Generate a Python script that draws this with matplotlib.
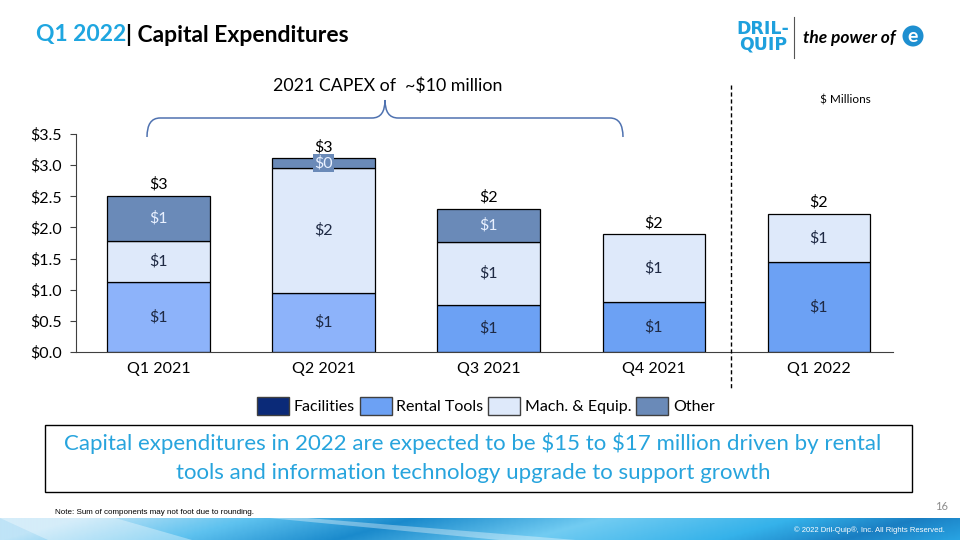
import numpy as np
import matplotlib
matplotlib.use("Agg")
from matplotlib import pyplot as plt
from matplotlib.patches import Patch, Rectangle, Circle, PathPatch
from matplotlib.path import Path
from matplotlib.lines import Line2D
from matplotlib.text import Annotation
from matplotlib.colors import LinearSegmentedColormap

plt.rcParams['font.family'] = ['Lato', 'DejaVu Sans']
plt.rcParams['text.parse_math'] = False

# data ($ millions)
quarters = ['Q1 2021', 'Q2 2021', 'Q3 2021', 'Q4 2021', 'Q1 2022']
facilities = [0.0, 0.0, 0.0, 0.0, 0.0]
rental_tools = [1.12, 0.95, 0.75, 0.80, 1.44]
mach_equip = [0.66, 2.00, 1.02, 1.09, 0.78]
other = [0.73, 0.16, 0.53, 0.0, 0.0]
yticks = [0.0, 0.5, 1.0, 1.5, 2.0, 2.5, 3.0, 3.5]

c_fac = '#0B2A78'
c_rent = ['#8DB3FA', '#8DB3FA', '#6CA1F4', '#6CA1F4', '#6CA1F4']
c_rent_leg = '#6CA1F4'
c_mach = '#DEE9FA'
c_other = '#6A8AB8'
dark_txt = '#1F2A44'
cyan = '#1FA6E0'

W, H = 960, 540
fig = plt.figure(figsize=(9.6, 5.4), dpi=100)


def fx(px):
    return px / W


def fy(py):
    return 1 - py / H


ax = fig.add_axes([fx(76), fy(352), fx(893) - fx(76), fy(134) - fy(352)])

x = np.arange(len(quarters))
bw = 0.62
fac = np.array(facilities)
rent = np.array(rental_tools)
mach = np.array(mach_equip)
oth = np.array(other)

ax.bar(x, rent, bw, bottom=fac, color=c_rent, edgecolor='black', linewidth=0.9)
ax.bar(x, mach, bw, bottom=fac + rent, color=c_mach, edgecolor='black', linewidth=0.9)
oth_mask = oth > 0
ax.bar(x[oth_mask], oth[oth_mask], bw, bottom=(fac + rent + mach)[oth_mask],
       color=c_other, edgecolor='black', linewidth=0.9)

for i in range(len(quarters)):
    b = fac[i]
    ax.text(x[i], b + rent[i] / 2, f'${rent[i]:.0f}', ha='center', va='center',
            fontsize=11.5, color=dark_txt)
    b += rent[i]
    ax.text(x[i], b + mach[i] / 2, f'${mach[i]:.0f}', ha='center', va='center',
            fontsize=11.5, color=dark_txt)
    b += mach[i]
    if oth[i] > 0:
        if oth[i] < 0.3:
            ax.text(x[i], b + oth[i] / 2, f'${oth[i]:.0f}', ha='center', va='center',
                    fontsize=11.5, color='#E8F0FF',
                    bbox=dict(boxstyle='square,pad=0.1', fc=c_other, ec='none'))
        else:
            ax.text(x[i], b + oth[i] / 2, f'${oth[i]:.0f}', ha='center', va='center',
                    fontsize=11.5, color='#E8F0FF')
        b += oth[i]
    ax.annotate(f'${b:.0f}', (x[i], b), xytext=(0, 3), textcoords='offset points',
                ha='center', va='bottom', fontsize=11.5, color='black')

ax.set_xlim(-0.5, 4.45)
ax.set_ylim(0, 3.5)
ax.set_yticks(yticks)
ax.set_yticklabels([f'${v:.1f}' for v in yticks], fontsize=11.5)
ax.set_xticks(x)
ax.set_xticklabels(quarters, fontsize=11.5)
for s in ['top', 'right']:
    ax.spines[s].set_visible(False)
for s in ['left', 'bottom']:
    ax.spines[s].set_color('#404040')
ax.tick_params(axis='y', length=4, color='#404040', pad=6)
ax.tick_params(axis='x', length=0, pad=7)

# legend
handles = [Patch(fc=c_fac, ec='#404040', label='Facilities'),
           Patch(fc=c_rent_leg, ec='#404040', label='Rental Tools'),
           Patch(fc=c_mach, ec='#404040', label='Mach. & Equip.'),
           Patch(fc=c_other, ec='#404040', label='Other')]
fig.legend(handles=handles, loc='center', bbox_to_anchor=(fx(486), fy(406)), ncol=4,
           frameon=False, fontsize=11.5, handlelength=2.0, handleheight=1.3,
           handletextpad=0.3, columnspacing=0.3)

# dashed separator
fig.add_artist(Line2D([fx(731), fx(731)], [fy(85), fy(390)], color='black',
                      lw=1, linestyle=(0, (3, 2))))

# brace over 2021
verts = [(147, 137), (147, 118), (160, 118), (372, 118), (385, 118), (385, 100),
         (385, 118), (398, 118), (610, 118), (623, 118), (623, 137)]
codes = [Path.MOVETO, Path.CURVE3, Path.CURVE3, Path.LINETO, Path.CURVE3, Path.CURVE3,
         Path.CURVE3, Path.CURVE3, Path.LINETO, Path.CURVE3, Path.CURVE3]
brace = Path([(fx(a), fy(b)) for a, b in verts], codes)
fig.add_artist(PathPatch(brace, fc='none', ec='#4F72B0', lw=1.1, transform=fig.transFigure))
fig.text(fx(388), fy(86), '2021 CAPEX of  ~$10 million', ha='center', va='center',
         fontsize=12.8)

fig.text(fx(845), fy(100), '$ Millions', ha='center', va='center', fontsize=8.5)

# title
t1 = fig.text(fx(36), fy(35), 'Q1 2022', ha='left', va='center', fontsize=16.5,
              fontweight='bold', color=cyan)
fig.add_artist(Annotation('| Capital Expenditures', xy=(1, 0.5), xycoords=t1,
                          va='center', ha='left', fontsize=16.5, fontweight='bold',
                          color='black'))

# logo
fig.text(fx(763), fy(37), 'DRIL-\nQUIP', ha='center', va='center', fontsize=12.5,
         fontweight='heavy', color='#1EA0DD', linespacing=0.85,
         family=['DejaVu Sans'])
fig.add_artist(Line2D([fx(794), fx(794)], [fy(17), fy(58)], color='#555555', lw=0.8))
fig.text(fx(803), fy(38), 'the power of', ha='left', va='center', fontsize=12.5,
         fontweight='bold', style='italic', color='black')
fig.add_artist(Circle((913 / 100, (H - 36) / 100), 0.105, transform=fig.dpi_scale_trans,
                      fc='#1E8FD0', ec='none'))
fig.text(fx(913), fy(37), 'e', ha='center', va='center', fontsize=14,
         fontweight='bold', color='white')

# message box
fig.add_artist(Rectangle((fx(45), fy(492)), fx(912) - fx(45), fy(425) - fy(492),
                         transform=fig.transFigure, fc='white', ec='black', lw=1))
fig.text(fx(473), fy(443), 'Capital expenditures in 2022 are expected to be $15 to $17 million driven by rental',
         ha='center', va='center', fontsize=16, color='#27A4DD')
fig.text(fx(473), fy(473), 'tools and information technology upgrade to support growth',
         ha='center', va='center', fontsize=16, color='#27A4DD')

# footer
fig.text(fx(55), fy(513), 'Note: Sum of components may not foot due to rounding.',
         ha='left', va='center', fontsize=5.8, family=['Liberation Sans Narrow', 'Liberation Sans'])
fig.text(fx(948), fy(507), '16', ha='right', va='center', fontsize=8, color='#8C8C8C')

band = fig.add_axes([0, 0, 1, 22 / H])
cmap = LinearSegmentedColormap.from_list('band', [(0, '#BFE4F7'), (0.18, '#5EC2EF'),
                                                  (0.35, '#1A8ACC'), (0.55, '#72CCF2'),
                                                  (0.75, '#35B2EA'), (0.88, '#1A7EC2'),
                                                  (1, '#28A3E2')])
gx = np.linspace(0, 1, 400)
gy = np.linspace(0, 1, 22)
grad = gx[None, :] - 0.08 * gy[:, None]
band.imshow(grad, aspect='auto', cmap=cmap, extent=[0, 1, 0, 1], origin='lower',
            vmin=0, vmax=1)
band.fill([0.0, 0.12, 0.2, 0.05], [1, 1, 0, 0], color='white', alpha=0.35, lw=0)
band.fill([0.28, 0.32, 0.6, 0.52], [1, 1, 0, 0], color='white', alpha=0.35, lw=0)
band.set_xlim(0, 1)
band.set_ylim(0, 1)
band.axis('off')
fig.text(fx(945), fy(530), '\u00a9 2022 Dril-Quip\u00ae, Inc. All Rights Reserved.',
         ha='right', va='center', fontsize=5.5, color='white',
         family=['Liberation Sans Narrow', 'Liberation Sans'])

fig.savefig('out.png', dpi=100)
